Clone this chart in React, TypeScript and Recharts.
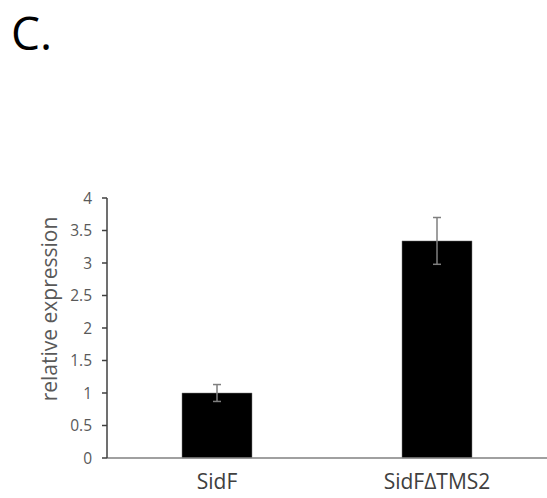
import { BarChart, Bar, XAxis, YAxis, ErrorBar } from "recharts";

const categories = ["SidF", "SidF\u0394TMS2"];
const expression = [1.0, 3.34];
const errors = [0.13, 0.36];
const yTicks = [0, 0.5, 1, 1.5, 2, 2.5, 3, 3.5, 4];

const data = categories.map((name, i) => ({
    name,
    value: expression[i],
    err: errors[i],
}));

const font = "'Open Sans', 'Noto Sans', sans-serif";

export default function App() {
    return (
        <div
            style={{
                position: "absolute",
                left: 0,
                top: 0,
                width: 547,
                height: 498,
                background: "#fff",
                fontFamily: font,
            }}
        >
            <div
                style={{
                    position: "absolute",
                    left: 11,
                    top: 2,
                    fontSize: 46,
                    lineHeight: "60px",
                    color: "#000",
                }}
            >
                C.
            </div>
            <BarChart
                width={547}
                height={498}
                data={data}
                margin={{ top: 198, right: 0, left: 0, bottom: 0 }}
                barSize={70}
            >
                <XAxis
                    dataKey="name"
                    height={40}
                    tickLine={false}
                    axisLine={{ stroke: "#808080", strokeWidth: 1.5 }}
                    tick={{ fill: "#404040", fontSize: 21, fontFamily: font }}
                    dy={8}
                />
                <YAxis
                    width={107}
                    domain={[0, 4]}
                    ticks={yTicks}
                    interval={0}
                    tickSize={5}
                    axisLine={{ stroke: "#404040", strokeWidth: 1.5 }}
                    tickLine={{ stroke: "#404040", strokeWidth: 1.5 }}
                    tick={{ fill: "#595959", fontSize: 15.5, fontFamily: font }}
                    dx={-8}
                    tickFormatter={(v) => String(v)}
                    label={{
                        value: "relative expression",
                        angle: -90,
                        position: "insideLeft",
                        dx: 45,
                        dy: -19,
                        style: {
                            textAnchor: "middle",
                            fill: "#595959",
                            fontSize: 21,
                            fontFamily: font,
                        },
                    }}
                />
                <Bar dataKey="value" fill="#000" stroke="#7f7f7f" strokeWidth={0.5} isAnimationActive={false}>
                    <ErrorBar dataKey="err" width={4} stroke="#7f7f7f" strokeWidth={1.5} />
                </Bar>
            </BarChart>
        </div>
    );
}
